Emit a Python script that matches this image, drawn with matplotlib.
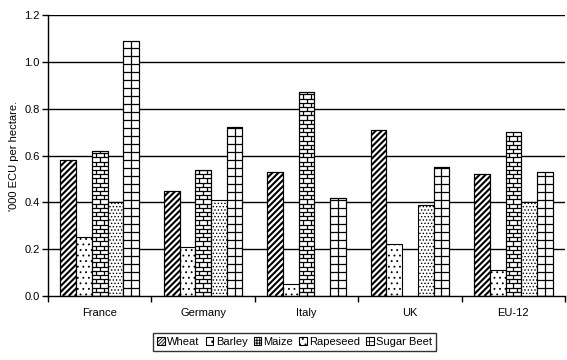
import numpy as np
import matplotlib.pyplot as plt
from matplotlib.collections import LineCollection
from matplotlib.patches import Patch

plt.rcParams['font.family'] = ['Liberation Sans', 'DejaVu Sans']
plt.rcParams['font.size'] = 8
plt.rcParams['hatch.linewidth'] = 0.6
plt.rcParams['hatch.color'] = 'black'

pays = ["France", "Germany", "Italy", "UK", "EU-12"]
cultures = ["Wheat", "Barley", "Maize", "Rapeseed", "Sugar Beet"]
wheat = [0.58, 0.45, 0.53, 0.71, 0.52]
barley = [0.25, 0.21, 0.05, 0.22, 0.11]
maize = [0.62, 0.54, 0.87, 0.0, 0.70]
rapeseed = [0.40, 0.41, 0.0, 0.39, 0.40]
sugar_beet = [1.09, 0.72, 0.42, 0.55, 0.53]
y_ticks = [0.0, 0.2, 0.4, 0.6, 0.8, 1.0, 1.2]

series = [wheat, barley, maize, rapeseed, sugar_beet]
hachures = [None, '...', None, '.....', None]

fig = plt.figure(figsize=(5.67, 3.6), dpi=100)
ax = fig.add_axes([0.0847, 0.178, 0.912, 0.780])
ax.set_xlim(0, len(pays))
ax.set_ylim(0, 1.2)

# pixels par unite de donnee
px_x = fig.get_figwidth() * fig.dpi * 0.912 / len(pays)
px_y = fig.get_figheight() * fig.dpi * 0.780 / 1.2

w = 0.152
x = np.arange(len(pays)) + 0.5
for yv in y_ticks[1:]:
    ax.axhline(yv, color='black', lw=1, zorder=1)

barres = []
for i, vals in enumerate(series):
    b = ax.bar(x + (i - 2) * w, vals, w, color='white', edgecolor='black',
               lw=0.8, hatch=hachures[i], zorder=2)
    barres.append(b)


def motif(rect, segs, lw):
    lc = LineCollection(segs, colors='black', linewidths=lw, zorder=3)
    ax.add_collection(lc)
    lc.set_clip_path(rect)
    ax.bar(rect.get_x(), rect.get_height(), rect.get_width(), align='edge',
           fill=False, edgecolor='black', lw=0.8, zorder=4)


# ble : diagonales epaisses
pas = 6.0
for rect in barres[0]:
    x0, wd, ht = rect.get_x(), rect.get_width(), rect.get_height()
    wd_px, ht_px = wd * px_x, ht * px_y
    segs = []
    for s in np.arange(-ht_px - pas, wd_px + pas, pas):
        L = ht_px + 2 * pas
        segs.append([(x0 + s / px_x, 0), (x0 + (s + L) / px_x, L / px_y)])
    motif(rect, segs, 1.5)

# mais : briques
h_row = 4.2 / px_y
for rect in barres[2]:
    x0, wd, ht = rect.get_x(), rect.get_width(), rect.get_height()
    if ht <= 0:
        continue
    segs = []
    for k in range(int(np.ceil(ht / h_row))):
        y0 = k * h_row
        segs.append([(x0, y0), (x0 + wd, y0)])
        xs = [x0 + wd / 2] if k % 2 == 0 else [x0 + wd / 4, x0 + 3 * wd / 4]
        for xv in xs:
            segs.append([(xv, y0), (xv, y0 + h_row)])
    motif(rect, segs, 0.9)

# betterave : quadrillage
h_sq = 8.0 / px_y
for rect in barres[4]:
    x0, wd, ht = rect.get_x(), rect.get_width(), rect.get_height()
    segs = [[(x0 + wd / 2, 0), (x0 + wd / 2, ht)]]
    for k in range(int(np.ceil(ht / h_sq))):
        segs.append([(x0, k * h_sq), (x0 + wd, k * h_sq)])
    motif(rect, segs, 0.9)

ax.set_yticks(y_ticks)
ax.set_yticklabels([f"{v:.1f}" for v in y_ticks])
ax.set_xticks(np.arange(len(pays) + 1))
ax.set_xticklabels([])
ax.set_xticks(x, minor=True)
ax.set_xticklabels(pays, minor=True)
ax.tick_params(axis='x', which='minor', length=0, pad=9)
ax.tick_params(axis='both', which='major', length=4, width=1, color='black')
ax.tick_params(axis='y', pad=2)
for s in ['top', 'right']:
    ax.spines[s].set_visible(False)
for s in ['left', 'bottom']:
    ax.spines[s].set_linewidth(1)
ax.set_ylabel("'000 ECU per hectare.", labelpad=4)

handles = []
leg_hatch = ['//////////', '..', '++++++', '...', '+++']
for i, c in enumerate(cultures):
    handles.append(Patch(facecolor='white', edgecolor='black', hatch=leg_hatch[i],
                         lw=0.8, label=c))
leg = fig.legend(handles=handles, loc='center', bbox_to_anchor=(0.52, 0.05), ncol=5,
                 frameon=True, fancybox=False, edgecolor='black', handlelength=0.7,
                 handleheight=0.7, handletextpad=0.2, columnspacing=0.55,
                 borderpad=0.35, borderaxespad=0)
leg.get_frame().set_linewidth(1)

plt.savefig("out.png", dpi=100)
